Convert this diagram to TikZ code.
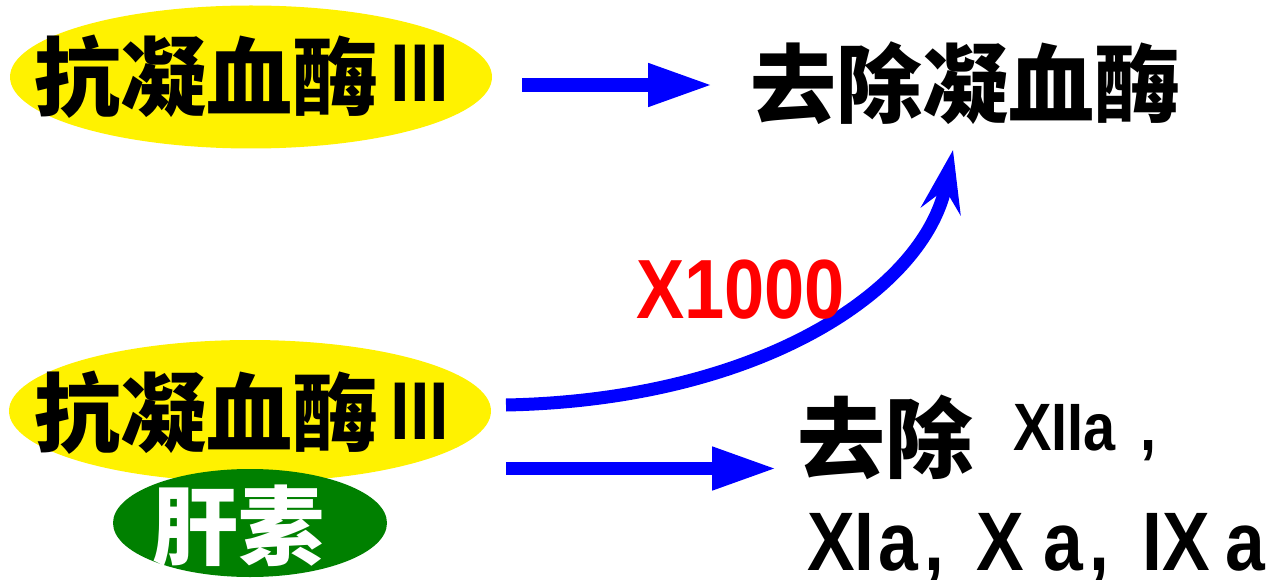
\documentclass[tikz,border=0pt]{standalone}
\usepackage{fontspec}
\setmainfont{Liberation Sans}
\newfontfamily\cjk{Noto Sans CJK SC}
\newfontfamily\latn{Liberation Sans}[FakeStretch=0.86]
\usetikzlibrary{shapes.geometric,arrows.meta}
\definecolor{ovalgreen}{RGB}{0,128,0}
\newcommand{\romthree}[1]{\raisebox{#1}{\latn\bfseries\fontsize{82}{82}\selectfont III}}
\begin{document}
\begin{tikzpicture}[x=1pt,y=-1pt,
  oval/.style={ellipse, inner sep=0pt},
  harrow/.style={draw=blue, line width=13.5pt, -{Triangle[length=65pt,width=40pt]}},
  big/.style={font=\cjk\bfseries\fontsize{86}{90}\selectfont, inner sep=0pt, anchor=base west},
  lat/.style={inner sep=0pt, anchor=base west},
]
\useasboundingbox (0,0) rectangle (1271,580);

% top left
\node[oval, fill=yellow, minimum width=482pt, minimum height=143pt] (e1) at (251,77) {};
\node[big] (t1) at (34,110) {抗凝血酶\hspace{12.5pt}\romthree{8pt}};

% top arrow and target
\coordinate (a1s) at (522,85);
\coordinate (a1e) at (713,85);
\draw[harrow] (a1s) -- (a1e);
\node[big] (t2) at (750,117) {去除凝血酶};

% bottom left
\node[oval, fill=yellow, minimum width=482pt, minimum height=142pt] (e2) at (250,411) {};
\node[big] (t3) at (34,445) {抗凝血酶\hspace{12.5pt}\romthree{6pt}};
\node[oval, fill=ovalgreen, minimum width=274pt, minimum height=108pt] (e3) at (250,523) {};
\node[big, text=white] (t4) at (152,558) {肝素};

% curved arrow
\coordinate (c1s) at (506,405);
\coordinate (c1e) at (953,150);
\draw[draw=blue, line width=13pt, -{Stealth[length=62pt,width=40pt,inset=22pt]}]
  (c1s) .. controls (760,400) and (925,290) .. (c1e);
\node[lat, text=red, font=\latn\bfseries\fontsize{84}{84}\selectfont] (m) at (636,318) {X1000};

% bottom arrow and target
\coordinate (a2s) at (506,468.5);
\coordinate (a2e) at (777,468.5);
\draw[harrow] (a2s) -- (a2e);
\node[big, font=\cjk\bfseries\fontsize{88}{90}\selectfont] (r1) at (797,471) {去除};
\node[lat, font=\latn\bfseries\fontsize{67}{67}\selectfont] (r1b) at (1013,450) {XIIa\hspace{25pt},};
\node[lat, font=\latn\bfseries\fontsize{83}{83}\selectfont] (r2) at (807,570)
  {\smash{XI\hspace{4pt}a\hspace{6pt}, \hspace{12pt}X\hspace{20pt}a\hspace{6pt}, \hspace{14pt}IX\hspace{15pt}a}};
\end{tikzpicture}
\end{document}
